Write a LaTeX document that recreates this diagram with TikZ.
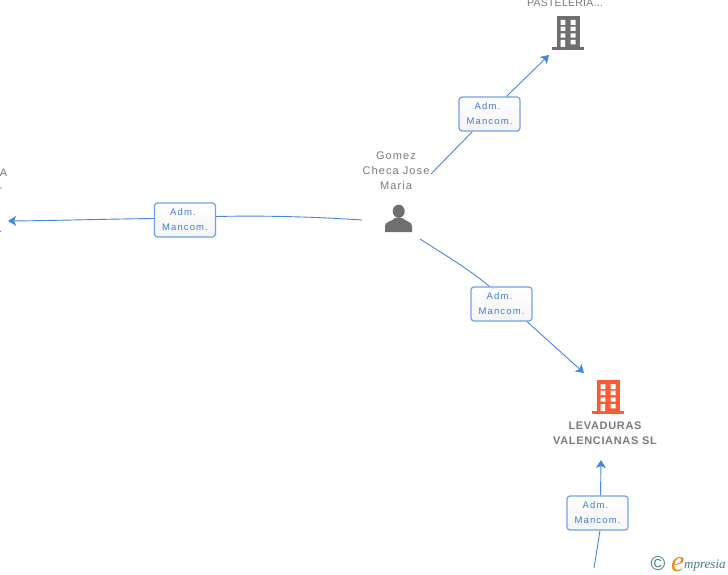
\documentclass[tikz,border=0pt]{standalone}
\usepackage{fontspec}
\setmainfont{Liberation Sans}
\newfontfamily\lblfont[LetterSpace=10]{Liberation Sans}
\newfontfamily\boxfont[LetterSpace=12]{Liberation Sans}
\newfontfamily\towerfont[LetterSpace=2.5]{Liberation Sans}
\newfontfamily\boldfont[LetterSpace=6]{Liberation Sans Bold}
\newfontfamily\logofont{Liberation Serif}
\usetikzlibrary{calc,arrows.meta}
\definecolor{linkblue}{HTML}{4A86E0}
\definecolor{boxblue}{HTML}{6FA2EC}
\definecolor{boxtext}{HTML}{3F7CDD}
\definecolor{txtgrey}{HTML}{7B7B7B}
\definecolor{icongrey}{HTML}{6F6F6F}
\definecolor{iconorange}{HTML}{FF5B33}
\definecolor{logoteal}{HTML}{3F7F8C}
\definecolor{logoorange}{HTML}{F08A1D}
\tikzset{
  link/.style={draw=linkblue,line width=0.9pt},
  arrowlink/.style={link,-{Stealth[length=8pt,width=10pt,inset=2pt]}},
  rolebox/.style={draw=boxblue,line width=1.2pt,rounded corners=3pt,top color=white,bottom color=black!4,
    minimum width=61pt,minimum height=34pt,inner sep=0pt,align=center,text=boxtext,
    font=\fontsize{9.5}{15}\boxfont},
  namelabel/.style={text=txtgrey,align=center,inner sep=0pt,font=\fontsize{11}{15}\lblfont},
  towerlabel/.style={text=txtgrey,align=center,inner sep=0pt,font=\fontsize{10.5}{15}\towerfont},
  boldlabel/.style={text=txtgrey,align=center,inner sep=0pt,font=\fontsize{11}{15}\boldfont},
  iconspot/.style={inner sep=0pt,minimum width=32pt,minimum height=34pt}
}
\newcommand{\buildingicon}[3]{%
  \begin{scope}[shift={(#1,#2)}]
    \fill[#3] (-11,-17) rectangle (11.5,14);
    \fill[#3] (-16,14) rectangle (16,17);
    \fill[white] (-7.3,-13) rectangle (-2.7,-8) (2.7,-13) rectangle (7.5,-8)
      (-7.3,-6.3) rectangle (-2.7,-2) (2.7,-6.3) rectangle (7.5,-2)
      (-7.3,0.3) rectangle (-2.7,4.7) (2.7,0.3) rectangle (7.5,4.7)
      (-7.3,7) rectangle (-3,14) (2.7,7) rectangle (7.5,11.3);
  \end{scope}}
\begin{document}
\begin{tikzpicture}[x=1pt,y=-1pt]
\useasboundingbox (0,0) rectangle (728,575);
\clip (0,0) rectangle (728,575);
\fill[white] (0,0) rectangle (728,575);

% free connector ends
\coordinate (leftend) at (8,221);
\coordinate (towerend) at (549,55);
\coordinate (mainend) at (584,373);
\coordinate (labelend) at (601,460);
\coordinate (bottomstart) at (594,568);
\coordinate (personright) at (362,220);
\coordinate (personupper) at (431,174);
\coordinate (personlower) at (420,239);

% icons and their places
\node[iconspot] (tower) at (568,33) {};
\node[iconspot] (levaduras) at (608,397) {};
\node[iconspot] (person) at (398.5,218.5) {};
\buildingicon{568}{33}{icongrey}
\buildingicon{608}{397}{iconorange}
\fill[icongrey] (398.7,211.3) ellipse (6pt and 6.6pt);
\fill[icongrey] (385,232) -- (385,226) .. controls (385,221.5) and (393,221) .. (395,218)
  -- (402.5,218) .. controls (404.5,221) and (412,221.5) .. (412,226) -- (412,232) -- cycle;

% role boxes
\node[rolebox] (boxa) at (185,220) {Adm.\hspace*{4pt}\\Mancom.};
\node[rolebox] (boxb) at (489.5,114) {Adm.\hspace*{4pt}\\Mancom.};
\node[rolebox] (boxc) at (501.5,304) {Adm.\hspace*{4pt}\\Mancom.};
\node[rolebox] (boxd) at (597.5,513) {Adm.\hspace*{4pt}\\Mancom.};

% connectors
\draw[link] (personright) .. controls (310,216.5) and (260,215.5) .. ($(boxa.east)+(0,-3.5)$);
\draw[arrowlink] ($(boxa.west)+(0,-1.5)$) .. controls (110,219) and (60,220.5) .. (leftend);
\draw[link] (personupper) -- (boxb);
\draw[arrowlink] ($(boxb.north)+(17,0)$) -- (towerend);
\draw[link] (personlower) .. controls (445,255) and (470,270) .. ($(boxc.north)+(-12,0)$);
\draw[arrowlink] ($(boxc.south)+(25.5,0)$) -- (mainend);
\draw[link] (bottomstart) -- ($(boxd.south)+(2.5,0)$);
\draw[arrowlink] ($(boxd.north)+(3,0)$) -- (labelend);

% labels
\node[namelabel] (personlabel) at (396,171) {Gomez\\Checa Jose\\Maria};
\node[towerlabel] (towerlabel) at (565,3) {PASTELERIA...};
\node[namelabel,anchor=east] (leftlabel) at (7.5,173) {A};
\node[namelabel,anchor=east] (leftdash) at (2.5,190) {-};
\node[namelabel,anchor=east] (leftdot) at (2.5,232) {.};
\node[boldlabel] (mainlabel) at (605,433) {LEVADURAS\\VALENCIANAS SL};

% logo
\node[inner sep=0pt,text=logoteal,font=\fontsize{20}{20}\selectfont] (logoc) at (658,564) {©};
\node[inner sep=0pt,text=logoorange,anchor=base west,font=\fontsize{30}{30}\logofont\itshape] (logoe) at (671,571) {e};
\node[inner sep=0pt,text=logoteal,anchor=base west,font=\fontsize{13}{13}\logofont\itshape] (logot) at (684,568) {mpresia};
\end{tikzpicture}
\end{document}
